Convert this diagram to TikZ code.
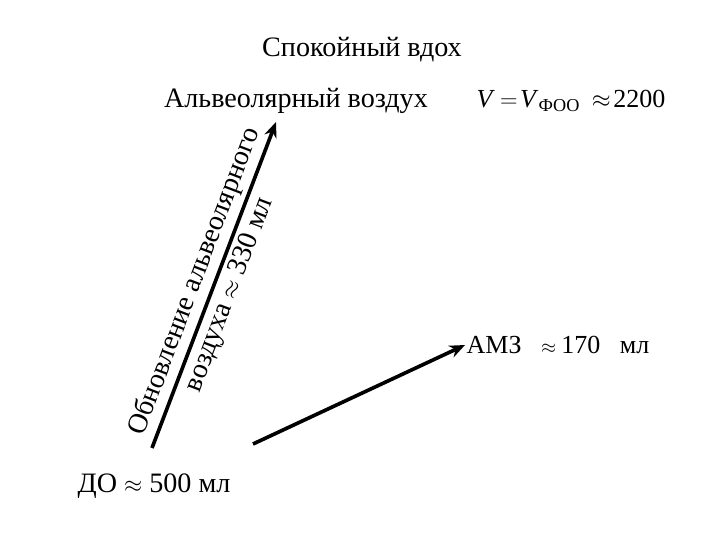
\documentclass[tikz,border=0pt]{standalone}
\usepackage{fontspec}
\usepackage{graphicx}
\setmainfont{Liberation Serif}
\usetikzlibrary{positioning,calc,arrows.meta}
\newcommand{\apx}{\scalebox{0.8}{$\approx$}}
\tikzset{lbl/.style={font=\fontsize{20}{24}\selectfont,inner sep=1pt},
	lblm/.style={font=\fontsize{18.5}{22}\selectfont,inner sep=1pt},
	arr/.style={-{Stealth[length=11pt,width=9pt]},line width=2.6pt}}

\begin{document}
\begin{tikzpicture}[x=0.025cm,y=-0.025cm]
	\useasboundingbox (0,0) rectangle (720,540);
	\node[lbl] (title) at (362,50) {Спокойный вдох};
	\node[lbl] (alv) at (296,101) {Альвеолярный воздух};
	\node[lblm] (vfoo) at (571,101) {\textit{V}\hspace{0.2em}$=$\hspace{0.1em}\textit{V}\textsubscript{ФОО}\hspace{0.45em}$\approx$\hspace{0.1em}2200};
	\node[lblm,anchor=west] (amz) at (465,345) {АМЗ\hspace{0.75em}\apx\hspace{0.2em}170\hspace{0.75em}мл};
	\node[lbl] (do) at (154,486) {ДО \apx\ 500 мл};
	\coordinate (s1) at (152,448);
	\coordinate (e1) at (276,122);
	\coordinate (s2) at (253,444);
	\draw[arr] (s1) -- (e1)
		node[lbl,pos=0.49,sloped,above=2pt]{Обновление альвеолярного}
		node[lbl,pos=0.49,sloped,below=2pt]{воздуха \apx\ 330 мл};
	\draw[arr] (s2) -- (amz.west);
\end{tikzpicture}
\end{document}
